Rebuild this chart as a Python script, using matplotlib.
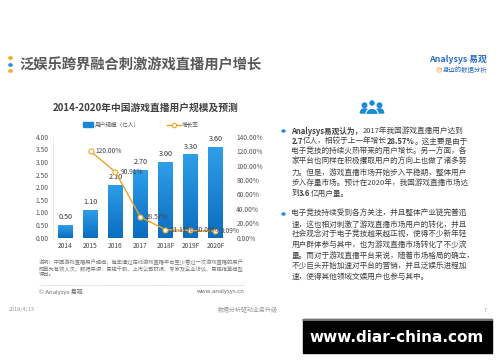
import matplotlib
matplotlib.use('Agg')
import matplotlib.pyplot as plt
import numpy as np
from matplotlib.patches import Rectangle, Circle, Wedge
from matplotlib.lines import Line2D
from matplotlib.colors import LinearSegmentedColormap

plt.rcParams['font.family'] = ['Noto Sans CJK SC', 'DejaVu Sans']

# ---------------- data ----------------
years = ['2014', '2015', '2016', '2017', '2018F', '2019F', '2020F']
users = [0.50, 1.10, 2.10, 2.70, 3.00, 3.30, 3.60]          # 亿人
growth = [np.nan, 120.00, 90.91, 28.57, 11.11, 10.00, 9.09]  # %
left_ticks = [0.0, 0.5, 1.0, 1.5, 2.0, 2.5, 3.0, 3.5, 4.0]
right_ticks = [0, 20, 40, 60, 80, 100, 120, 140]

title = '泛娱乐跨界融合刺激游戏直播用户增长'
chart_title = '2014-2020年中国游戏直播用户规模及预测'
legend_bar = '用户规模（亿人）'
legend_line = '增长率'
note_lines = ['说明：中国游戏直播用户规模，每年通过在线游戏直播平台至少看过一次游戏直播的用户',
              '即算为有效人次，数据来源：易观千帆、上市公司财报、专家及企业访谈、易观推算模型',
              '得出。']
para1 = [
    [('Analysys易观认为，', True), ('2017年我国游戏直播用户达到', False)],
    [('2.7', True), ('亿人，相较于上一年增长', False), ('28.57%', True), ('。这主要是由于', False)],
    [('电子竞技的持续火热带来的用户增长。另一方面，各', False)],
    [('家平台也同样在积极攫取用户的方向上也做了诸多努', False)],
    [('力。但是，游戏直播市场开始步入平稳期，整体用户', False)],
    [('步入存量市场。预计在2020年，我国游戏直播市场达', False)],
    [('到', False), ('3.6', True), ('亿用户量。', False)],
]
para2 = ['电子竞技持续受到各方关注，并且整体产业链完善迅',
         '速，这也相对刺激了游戏直播市场用户的转化，并且',
         '社会观念对于电子竞技越来越正视，使得不少新年轻',
         '用户群体参与其中，也为游戏直播市场转化了不少流',
         '量。而对于游戏直播平台来说，随着市场格局的确立，',
         '不少巨头开始加速对平台的营销，并且泛娱乐进程加',
         '速，使得其他领域文娱用户也参与其中。']

W, H = 500, 362
fig = plt.figure(figsize=(5, 3.62), dpi=100)
fig.patch.set_facecolor('white')


def fx(px):
    return px / W


def fy(py):
    return 1 - py / H


renderer = fig.canvas.get_renderer()

# ---------------- slide title ----------------
for yy, c in [(58, '#f5a623'), (65, '#2b8fd6'), (71, '#f5a623')]:
    fig.patches.append(Circle((fx(10.5), fy(yy)), radius=1.6 / W, transform=fig.transFigure,
                              color=c))
fig.text(fx(19), fy(65), title, fontsize=10.3, fontweight='bold', color='#595959',
         ha='left', va='center')

# logo
fig.text(fx(487), fy(59), 'Analysys 易观', fontsize=6.3, fontweight='bold', color='#2b6cc4',
         ha='right', va='center', style='italic')
t0 = fig.text(fx(436), fy(70), '你', fontsize=4.6, color='#f0a030', ha='left', va='center')
bb = t0.get_window_extent(renderer=renderer)
fig.text(fx(436) + bb.width / W, fy(70), '身边的数据分析', fontsize=4.6, color='#2b6cc4',
         ha='left', va='center', style='italic')

# ---------------- chart ----------------
fig.text(fx(146), fy(108), chart_title, fontsize=7, fontweight='bold', color='#404040',
         ha='center', va='center')

# legend
fig.patches.append(Rectangle((fx(83), fy(127)), 10 / W, 5 / H, transform=fig.transFigure,
                             color='#1a86d6'))
fig.text(fx(95), fy(124.5), legend_bar, fontsize=4.1, color='#555555', ha='left', va='center')
fig.lines.append(Line2D([fx(167), fx(181)], [fy(124.5), fy(124.5)], transform=fig.transFigure,
                        color='#e8a524', lw=1.0))
fig.lines.append(Line2D([fx(174)], [fy(124.5)], transform=fig.transFigure, marker='o',
                        markersize=3.2, markerfacecolor='white', markeredgecolor='#e8a524',
                        markeredgewidth=0.8, color='#e8a524'))
fig.text(fx(182), fy(124.5), legend_line, fontsize=4.1, color='#555555', ha='left', va='center')

ax = fig.add_axes([fx(53), fy(237.7), (228 - 53) / W, (237.7 - 136.7) / H])
ax.set_facecolor('none')
x = np.arange(len(years))
bars = ax.bar(x, users, width=0.575, color='#1a86d6', zorder=2)
grad = np.linspace(0, 1, 256).reshape(-1, 1)
cmap = LinearSegmentedColormap.from_list('g', ['#0b6cc0', '#2f9fe8'])
for b in bars:
    x0, y0, w, h = b.get_x(), b.get_y(), b.get_width(), b.get_height()
    im = ax.imshow(grad, extent=[x0, x0 + w, y0, y0 + h], origin='lower', cmap=cmap,
                   aspect='auto', zorder=2.1)
    im.set_clip_path(b)
for i, v in enumerate(users):
    ax.text(i, v + 0.30, f'{v:.2f}', ha='center', va='center', fontsize=5.2, color='#333333',
            zorder=5)
ax.set_xlim(-0.5, len(years) - 0.5)
ax.set_ylim(0, 4.0)
ax.set_yticks(left_ticks)
ax.set_yticklabels([f'{t:.2f}' for t in left_ticks], fontsize=4.8, color='#555555')
ax.set_xticks(x)
ax.set_xticklabels(years, fontsize=4.8, color='#444444')
ax.tick_params(length=0, pad=3)
for s in ['top', 'right', 'bottom']:
    ax.spines[s].set_visible(False)
ax.spines['left'].set_color('#e6e6e6')
ax.spines['left'].set_linewidth(0.6)

ax2 = ax.twinx()
ax2.plot(x, growth, color='#e8a524', lw=1.0, marker='o', markersize=3.6,
         markerfacecolor='white', markeredgecolor='#e8a524', markeredgewidth=0.8, zorder=4)
for i, g in enumerate(growth):
    if not np.isnan(g):
        ax2.annotate(f'{g:.2f}%', (i, g), xytext=(3.5, 0), textcoords='offset points',
                     ha='left', va='center', fontsize=4.8, color='#444444', zorder=6)
ax2.set_ylim(0, 140)
ax2.set_yticks(right_ticks)
ax2.set_yticklabels([f'{t:.2f}%' for t in right_ticks], fontsize=4.8, color='#555555')
ax2.tick_params(length=0, pad=6)
for s in ax2.spines.values():
    s.set_visible(False)

# note / source
for j, ln in enumerate(note_lines):
    fig.text(fx(39), fy(261 + j * 7), ln, fontsize=3.8, color='#777777', ha='left', va='center')
fig.lines.append(Line2D([fx(39), fx(245)], [fy(285), fy(285)], transform=fig.transFigure,
                        color='#d0d0d0', lw=0.5, ls=(0, (2, 1))))
fig.text(fx(39), fy(292), '© Analysys 易观', fontsize=4.3, color='#666666', ha='left', va='center')
fig.text(fx(245), fy(292), 'www.analysys.cn', fontsize=4.3, color='#666666', ha='right',
         va='center')

# ---------------- right text ----------------
iax = fig.add_axes([fx(357), fy(117), 30 / W, 21 / H])
iax.set_xlim(-1.5, 1.5)
iax.set_ylim(-0.35, 1.75)
iax.set_aspect('equal')
iax.axis('off')
blue = '#1a8ad8'
for cx, r_head, r_body, cy in [(-0.75, 0.22, 0.42, 0.05), (0.75, 0.22, 0.42, 0.05)]:
    iax.add_patch(Circle((cx, cy + 0.78), r_head, color=blue))
    iax.add_patch(Wedge((cx, cy), r_body, 0, 180, color=blue))
iax.add_patch(Circle((0, 1.05), 0.33, color=blue, ec='white', lw=0.8))
iax.add_patch(Wedge((0, -0.1), 0.62, 0, 180, color=blue, ec='white', lw=0.8))


def seg_line(x_px, y_px, segs, size, color):
    xx = x_px
    for txt, bold in segs:
        t = fig.text(fx(xx), fy(y_px), txt, fontsize=size,
                     fontweight='bold' if bold else 'normal', color=color, va='center', ha='left')
        bbx = t.get_window_extent(renderer=renderer)
        xx += bbx.width


txt_color = '#404040'
fs = 5.5
for yy in [131, 214]:
    fig.patches.append(Circle((fx(283.5), fy(yy)), radius=1.5 / W, transform=fig.transFigure,
                              color='#2b8fd6'))
for j, segs in enumerate(para1):
    seg_line(291.5, 131 + j * 10.4, segs, fs, txt_color)
for j, ln in enumerate(para2):
    fig.text(fx(291.5), fy(214 + j * 10.4), ln, fontsize=fs, color=txt_color, ha='left',
             va='center')

# ---------------- footer ----------------
fig.text(fx(9), fy(310), '2018/4/13', fontsize=4, color='#999999', ha='left', va='center')
fig.text(fx(248), fy(310), '数据分析驱动业务升级', fontsize=4.3, color='#999999', ha='center',
         va='center')
fig.text(fx(485), fy(310), '7', fontsize=4, color='#999999', ha='center', va='center')

# watermark box
fig.patches.append(Rectangle((fx(303), fy(353)), 189 / W, 34 / H, transform=fig.transFigure,
                             color='black'))
fig.lines.append(Line2D([fx(303), fx(492)], [fy(319.5), fy(319.5)], transform=fig.transFigure,
                        color='#888888', lw=1.2))
fig.text(fx(397), fy(337), 'www.diar-china.com', fontsize=11, fontweight='bold', color='white',
         ha='center', va='center', family='DejaVu Sans')

fig.savefig('out.png', dpi=100, facecolor='white')
